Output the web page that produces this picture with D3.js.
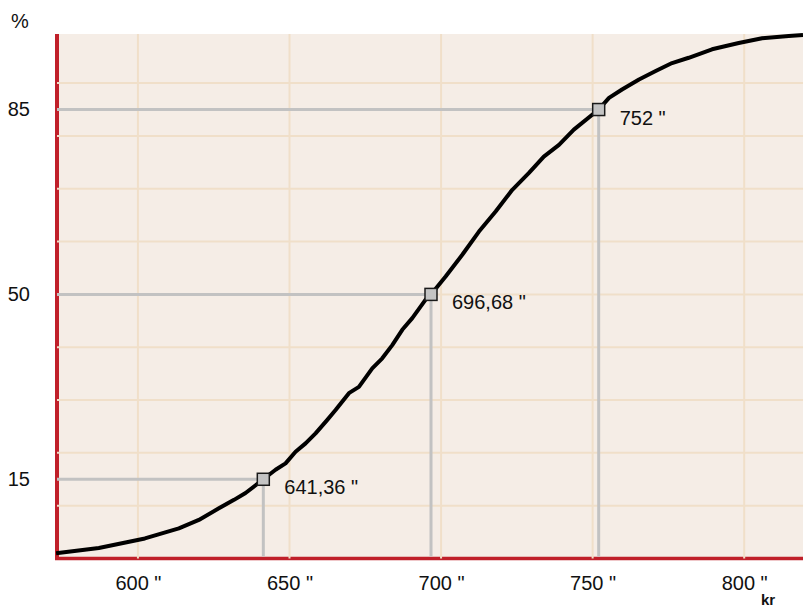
<!DOCTYPE html>
<html>
<head>
<meta charset="utf-8">
<script src="https://cdn.jsdelivr.net/npm/d3@7"></script>
<style>
  body { margin: 0; background: #fff; }
  text { font-family: "Liberation Sans", Arial, sans-serif; fill: #111; }
</style>
</head>
<body>
<script>
// cumulative curve (price -> percent)
const curvePrice = [573.0, 587.1, 602.3, 613.5, 620.1, 626.7, 631.7, 635.5, 641.36, 645.4, 648.7, 652.0,
    655.3, 658.6, 662.4, 665.2, 669.6, 672.9, 677.3, 680.6, 683.9, 687.2, 690.5, 694.9, 696.68,
    701.5, 707.0, 712.5, 718.0, 723.5, 729.0, 733.9, 738.9, 743.8, 752, 755.4, 759.7, 765.3,
    770.8, 776.2, 781.7, 789.4, 798.2, 805.9, 814.7, 819.4];
const curvePct = [1.0, 2.0, 3.8, 5.7, 7.3, 9.5, 11.1, 12.4, 15, 16.8, 18.0, 20.2,
    21.8, 23.7, 26.2, 28.1, 31.3, 32.5, 36.0, 37.9, 40.4, 43.3, 45.5, 49.0, 50,
    53.4, 57.5, 61.9, 65.7, 69.8, 73.0, 76.1, 78.3, 81.2, 85, 87.2, 88.8, 90.7,
    92.3, 93.8, 94.8, 96.4, 97.6, 98.5, 98.9, 99.1];

const markPrice = [641.36, 696.68, 752];
const markPct = [15, 50, 85];
const markLabels = ['641,36 "', '696,68 "', '752 "'];

const xTicks = [600, 650, 700, 750, 800];
const yTicks = [15, 50, 85];
const yGrid = [10, 20, 30, 40, 50, 60, 70, 80, 90];

const width = 803, height = 607;
const margin = {top: 34, right: 0, bottom: 48.5, left: 57};
const innerW = width - margin.left - margin.right,
    innerH = height - margin.top - margin.bottom;

const x = d3.scaleLinear().domain([573.3, 819.4]).range([0, innerW]);
const y = d3.scaleLinear().domain([0, 99.3]).range([innerH, 0]);

const svg = d3.select("body").append("svg")
    .attr("width", width)
    .attr("height", height);

const g = svg.append("g")
    .attr("transform", `translate(${margin.left}, ${margin.top})`);

g.append("rect")
    .attr("width", innerW)
    .attr("height", innerH)
    .attr("fill", "#f5ede6");

// red axis lines
g.append("line")
    .attr("x1", 0).attr("x2", 0).attr("y1", 0).attr("y2", innerH + 1.5)
    .attr("stroke", "#c0202a").attr("stroke-width", 4);
g.append("line")
    .attr("x1", -2).attr("x2", innerW).attr("y1", innerH).attr("y2", innerH)
    .attr("stroke", "#c0202a").attr("stroke-width", 3.5);

// grid
g.selectAll(".vgrid")
    .data(xTicks)
    .join("line")
        .attr("class", "vgrid")
        .attr("x1", d => x(d)).attr("x2", d => x(d))
        .attr("y1", 0).attr("y2", innerH)
        .attr("stroke", "#f0dfc9").attr("stroke-width", 2);
g.selectAll(".hgrid")
    .data(yGrid)
    .join("line")
        .attr("class", "hgrid")
        .attr("x1", 0).attr("x2", innerW)
        .attr("y1", d => y(d)).attr("y2", d => y(d))
        .attr("stroke", "#f0dfc9").attr("stroke-width", 2);

// reference lines to the markers
g.selectAll(".hmark")
    .data(markPct)
    .join("line")
        .attr("class", "hmark")
        .attr("x1", 0).attr("x2", (d, i) => x(markPrice[i]))
        .attr("y1", d => y(d)).attr("y2", d => y(d))
        .attr("stroke", "#c2c2c2").attr("stroke-width", 3);
g.selectAll(".vmark")
    .data(markPrice)
    .join("line")
        .attr("class", "vmark")
        .attr("x1", d => x(d)).attr("x2", d => x(d))
        .attr("y1", (d, i) => y(markPct[i])).attr("y2", innerH - 2)
        .attr("stroke", "#c2c2c2").attr("stroke-width", 3);

// curve
const line = d3.line()
    .x(d => x(d[0]))
    .y(d => y(d[1]));

g.append("path")
    .datum(d3.zip(curvePrice, curvePct))
    .attr("d", line)
    .attr("fill", "none")
    .attr("stroke", "#000")
    .attr("stroke-width", 4)
    .attr("stroke-linejoin", "round");

// markers + labels
g.selectAll(".mark")
    .data(markPrice)
    .join("rect")
        .attr("class", "mark")
        .attr("x", d => x(d) - 6)
        .attr("y", (d, i) => y(markPct[i]) - 6)
        .attr("width", 12).attr("height", 12)
        .attr("fill", "#c4c4c4")
        .attr("stroke", "#1a1a1a").attr("stroke-width", 1.5);

g.selectAll(".mlabel")
    .data(markLabels)
    .join("text")
        .attr("class", "mlabel")
        .attr("x", (d, i) => x(markPrice[i]) + 21)
        .attr("y", (d, i) => y(markPct[i]) + 15)
        .style("font-size", "20px")
        .text(d => d);

// axes (text only)
const xAxis = gg => gg
    .attr("transform", `translate(0, ${innerH})`)
    .call(d3.axisBottom(x)
        .tickValues(xTicks)
        .tickSize(0)
        .tickPadding(17.5)
        .tickFormat(d => `${d} "`))
    .call(gg => gg.select(".domain").remove())
    .call(gg => gg.selectAll("text").style("font-size", "20px").attr("fill", "#111"));

const yAxis = gg => gg
    .call(d3.axisLeft(y)
        .tickValues(yTicks)
        .tickSize(0)
        .tickPadding(27))
    .call(gg => gg.select(".domain").remove())
    .call(gg => gg.selectAll("text").style("font-size", "20px").attr("fill", "#111"));

g.append("g").call(xAxis);
g.append("g").call(yAxis);

svg.append("text")
    .attr("x", 11).attr("y", 28)
    .style("font-size", "20px")
    .text("%");

svg.append("text")
    .attr("x", 761).attr("y", 605)
    .style("font-size", "15px")
    .style("font-weight", "bold")
    .text("kr");
</script>
</body>
</html>
